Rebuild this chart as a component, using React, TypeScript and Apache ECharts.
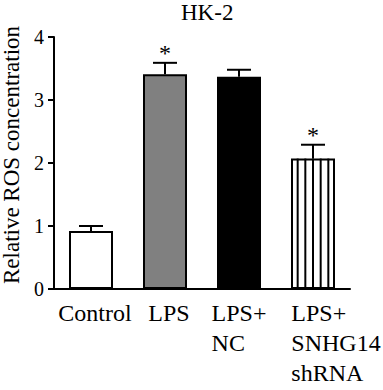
import React, { useEffect, useRef } from "react";
import * as echarts from "echarts";

const categories = ["Control", "LPS", "LPS+\nNC", "LPS+\nSNHG14\nshRNA"];
const means = [0.92, 3.41, 3.37, 2.07];
const errors = [0.08, 0.18, 0.11, 0.22];
const significant = [false, true, false, true];
const barColors = ["#ffffff", "#808080", "#000000", "#ffffff"];
const striped = [false, false, false, true];
const yTicks = [0, 1, 2, 3, 4];

const FONT = "Liberation Serif";
const BAR_W = 44;
const LABEL_PAD = [8, 8, 0, 46];

export default function App() {
  const ref = useRef<HTMLDivElement>(null);
  useEffect(() => {
    if (!ref.current) return;
    const chart = echarts.init(ref.current, undefined, { renderer: "svg" });
    const option: any = {
      animation: false,
      backgroundColor: "#ffffff",
      textStyle: { fontFamily: FONT, color: "#000" },
      title: {
        text: "HK-2",
        left: 181,
        top: 1,
        padding: 0,
        textStyle: { fontFamily: FONT, fontSize: 23, fontWeight: "normal", color: "#000" },
      },
      grid: { left: 54, right: 33, top: 37, bottom: 101, containLabel: false, outerBoundsMode: "none" },
      xAxis: {
        type: "category",
        data: categories,
        axisLine: { lineStyle: { color: "#000", width: 2 } },
        axisTick: { alignWithLabel: true, length: 6, lineStyle: { color: "#000", width: 2 } },
        axisLabel: {
          interval: 0,
          margin: 9,
          color: "#000",
          fontFamily: FONT,
          fontWeight: "normal",
          fontSize: 24,
          lineHeight: 30,
          hideOverlap: false,
          formatter: (val: string, idx: number) => {
            const lines = val.split("\n");
            const pad = LABEL_PAD[idx] ? `{sp${idx}|}` : "";
            return lines.map((l) => `${pad}{l|${l}}`).join("\n");
          },
          rich: {
            l: { align: "left", fontFamily: FONT, fontWeight: "normal", fontSize: 24, lineHeight: 30, color: "#000" },
            sp0: { width: LABEL_PAD[0], align: "left", lineHeight: 30, fontFamily: FONT, fontSize: 24 },
            sp1: { width: LABEL_PAD[1], align: "left", lineHeight: 30, fontFamily: FONT, fontSize: 24 },
            sp3: { width: LABEL_PAD[3], align: "left", lineHeight: 30, fontFamily: FONT, fontSize: 24 },
          },
        },
      },
      yAxis: {
        type: "value",
        min: yTicks[0],
        max: yTicks[yTicks.length - 1],
        interval: 1,
        name: "Relative ROS concentration",
        nameLocation: "middle",
        nameGap: 29,
        nameTextStyle: { fontFamily: FONT, fontWeight: "normal", fontSize: 23, color: "#000", padding: [0, 0, 0, 16] },
        axisLine: { show: true, lineStyle: { color: "#000", width: 2 } },
        axisTick: { show: true, length: 6, lineStyle: { color: "#000", width: 2 } },
        splitLine: { show: false },
        axisLabel: { margin: 10, color: "#000", fontFamily: FONT, fontWeight: "normal", fontSize: 20 },
      },
      series: [
        {
          type: "bar",
          barWidth: BAR_W,
          data: means.map((v, i) => ({ value: v, itemStyle: { color: barColors[i] } })),
          itemStyle: { borderColor: "#000", borderWidth: 2 },
          z: 2,
        },
        {
          type: "custom",
          z: 3,
          itemStyle: { color: "#000" },
          data: means.map((v, i) => [i, v, striped[i] ? 1 : 0]),
          renderItem: (params: any, api: any) => {
            if (!api.value(2)) return null;
            const base = api.coord([api.value(0), 0]);
            const top = api.coord([api.value(0), api.value(1)]);
            const children = [];
            const n = 6;
            const bw = BAR_W + 2;
            for (let k = 1; k < n; k++) {
              const x = base[0] - bw / 2 + (bw * k) / n;
              children.push({
                type: "line",
                shape: { x1: x, y1: top[1], x2: x, y2: base[1] },
                style: { stroke: "#000", lineWidth: 2 },
              });
            }
            return { type: "group", children };
          },
        },
        {
          type: "custom",
          z: 4,
          itemStyle: { color: "#000" },
          data: means.map((v, i) => [i, v, errors[i], significant[i] ? 1 : 0]),
          renderItem: (params: any, api: any) => {
            const top = api.coord([api.value(0), api.value(1)]);
            const hi = api.coord([api.value(0), api.value(1) + api.value(2)]);
            const cap = 12;
            const children: any[] = [
              { type: "line", shape: { x1: top[0], y1: top[1], x2: hi[0], y2: hi[1] }, style: { stroke: "#000", lineWidth: 2 } },
              { type: "line", shape: { x1: hi[0] - cap, y1: hi[1], x2: hi[0] + cap, y2: hi[1] }, style: { stroke: "#000", lineWidth: 2 } },
            ];
            if (api.value(3)) {
              children.push({
                type: "text",
                style: {
                  text: "*",
                  x: hi[0],
                  y: hi[1] + 2,
                  align: "center",
                  verticalAlign: "bottom",
                  fontFamily: FONT,
                  fontSize: 24,
                  fill: "#000",
                },
              });
            }
            return { type: "group", children };
          },
        },
      ],
    };
    chart.setOption(option);
    return () => chart.dispose();
  }, []);
  return <div ref={ref} style={{ width: 383, height: 390, position: "absolute", left: 0, top: 0 }} />;
}
